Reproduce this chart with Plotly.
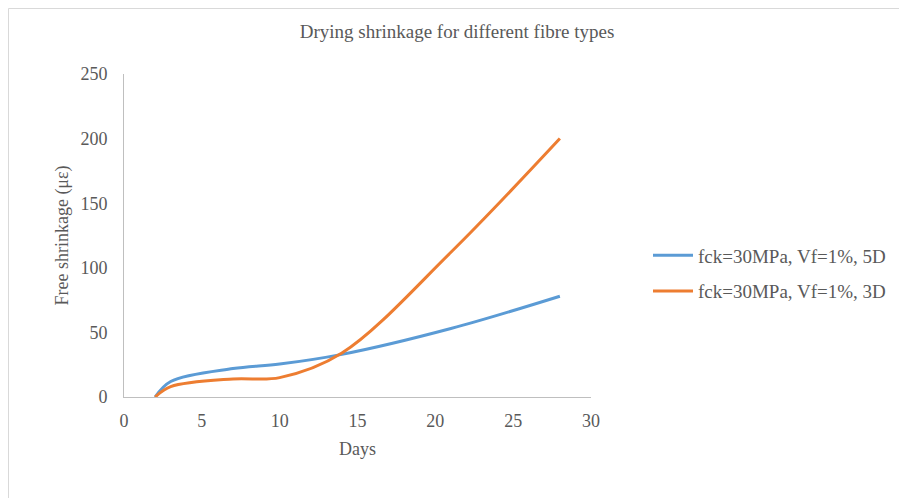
import plotly.graph_objects as go

days = [2, 3, 7, 10, 14, 21, 28]
shrink_5d = [0, 12, 22, 25.5, 33, 53, 78]
shrink_3d = [0, 8, 14, 15, 34, 112, 200]

series_names = ["fck=30MPa, Vf=1%, 5D", "fck=30MPa, Vf=1%, 3D"]
colors = ["#5B9BD5", "#ED7D31"]

FF = "Liberation Serif"
grey = "#595959"

fig = go.Figure()
for i, (name, ys, c) in enumerate(zip(series_names, [shrink_5d, shrink_3d], colors)):
    fig.add_trace(go.Scatter(
        x=days, y=ys, mode="lines", name=name, legendgroup=f"g{i}",
        line=dict(color=c, width=3, shape="spline", smoothing=1.0),
    ))

# page has an 8px body margin; compensate in margins
L, T = 116, 66
PW, PH = 467, 323
W, H = 907, 498

fig.update_layout(
    width=W, height=H,
    margin=dict(l=L, r=W - L - PW, t=T, b=H - T - PH, autoexpand=False),
    paper_bgcolor="white", plot_bgcolor="white",
    font=dict(family=FF, size=18, color=grey),
    title=dict(text="Drying shrinkage for different fibre types",
               x=(457 - 8) / W, xanchor="center", y=1 - (31 - 8) / H, yanchor="middle",
               font=dict(family=FF, size=19, color=grey)),
    xaxis=dict(range=[0, 30], tickvals=[0, 5, 10, 15, 20, 25, 30],
               showgrid=False, zeroline=False, showline=True,
               linecolor="#BFBFBF", linewidth=1, ticks="", ticklen=0,
               ticklabelstandoff=7,
               title=dict(text="Days", standoff=12,
                          font=dict(family=FF, size=18, color=grey)),
               tickfont=dict(family=FF, size=18, color=grey)),
    yaxis=dict(range=[0, 250], tickvals=[0, 50, 100, 150, 200, 250],
               showgrid=False, zeroline=False, showline=True,
               linecolor="#BFBFBF", linewidth=1, ticks="", ticklen=0,
               ticklabelstandoff=12,
               title=dict(text="Free shrinkage (με)", standoff=7,
                          font=dict(family=FF, size=18, color=grey)),
               tickfont=dict(family=FF, size=18, color=grey)),
    legend=dict(x=(648 - 8 - L) / PW, y=(397 - 273.5) / PH, xanchor="left", yanchor="middle",
                font=dict(family=FF, size=19, color=grey), itemwidth=40,
                traceorder="grouped", tracegroupgap=8, bgcolor="rgba(0,0,0,0)"),
    showlegend=True,
)

# faint chart border
fig.add_shape(type="rect", xref="paper", yref="paper",
              x0=-(L - 0.5) / PW, x1=(W - L - 1.5) / PW,
              y0=-(H - T - PH - 1.5) / PH, y1=1 + (T - 0.5) / PH,
              line=dict(color="#D9D9D9", width=1), fillcolor="rgba(0,0,0,0)",
              layer="below")

fig.write_html("out.html")
